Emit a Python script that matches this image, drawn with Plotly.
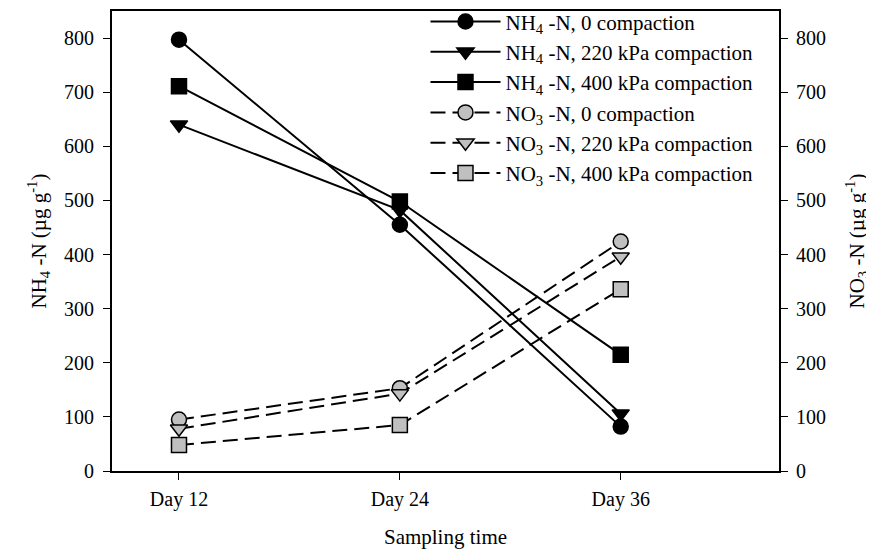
import plotly.graph_objects as go

days = [12, 24, 36]
day_labels = ["Day 12", "Day 24", "Day 36"]

nh4_0 = [797, 455, 82]
nh4_220 = [640, 482, 106]
nh4_400 = [711, 498, 215]
no3_0 = [95, 153, 424]
no3_220 = [78, 143, 396]
no3_400 = [48, 85, 336]

FONT = "Liberation Serif"
fig = go.Figure()

series = [
    ("NH<sub>4</sub> -N, 0 compaction", nh4_0, "circle", "black", "solid", "y"),
    ("NH<sub>4</sub> -N, 220 kPa compaction", nh4_220, "triangle-down", "black", "solid", "y"),
    ("NH<sub>4</sub> -N, 400 kPa compaction", nh4_400, "square", "black", "solid", "y"),
    ("NO<sub>3</sub> -N, 0 compaction", no3_0, "circle", "#c0c0c0", "dash", "y2"),
    ("NO<sub>3</sub> -N, 220 kPa compaction", no3_220, "triangle-down", "#c0c0c0", "dash", "y2"),
    ("NO<sub>3</sub> -N, 400 kPa compaction", no3_400, "square", "#c0c0c0", "dash", "y2"),
]
for i, (name, vals, sym, fill, dash, ax) in enumerate(series):
    fig.add_trace(go.Scatter(
        x=days, y=vals, name=name, yaxis=ax, mode="lines+markers",
        line=dict(color="black", width=2, dash="15px,7px" if dash == "dash" else "solid"),
        marker=dict(symbol=sym, size=15, color=fill, line=dict(color="black", width=1.5)),
    ))

ticks = [0, 100, 200, 300, 400, 500, 600, 700, 800]
fig.update_layout(
    width=866, height=541,
    margin=dict(l=104, r=95, t=3, b=78, autoexpand=False),
    plot_bgcolor="white", paper_bgcolor="white",
    font=dict(family=FONT, size=20, color="black"),
    showlegend=True,
    legend=dict(x=0.47, y=1.021, xanchor="left", yanchor="top", itemwidth=70,
                bgcolor="rgba(0,0,0,0)", font=dict(family=FONT, size=21)),
    xaxis=dict(range=[8.36, 44.6], tickvals=days, ticktext=day_labels,
               showline=True, linecolor="black", linewidth=2, mirror=True,
               ticks="outside", ticklen=7, tickcolor="black", showgrid=False, zeroline=False,
               ticklabelstandoff=2, automargin=False,
               title=dict(text="Sampling time", font=dict(size=21), standoff=21),
               tickfont=dict(size=20)),
    yaxis=dict(range=[0, 850], tickvals=ticks,
               showline=True, linecolor="black", linewidth=2,
               ticks="outside", ticklen=7, tickcolor="black", showgrid=False, zeroline=False,
               ticklabelstandoff=5, automargin=False,
               title=dict(text="NH<sub>4</sub> -N (µg g<sup>-1</sup>)", font=dict(size=21), standoff=12),
               tickfont=dict(size=20)),
    yaxis2=dict(range=[0, 850], tickvals=ticks,
                overlaying="y", side="right",
                showline=True, linecolor="black", linewidth=2,
                ticks="outside", ticklen=7, tickcolor="black", showgrid=False, zeroline=False,
                ticklabelstandoff=4, automargin=False,
                title=dict(text="NO<sub>3</sub> -N (µg g<sup>-1</sup>)", font=dict(size=21), standoff=24),
                tickfont=dict(size=20)),
)

fig.write_html("out.html")
